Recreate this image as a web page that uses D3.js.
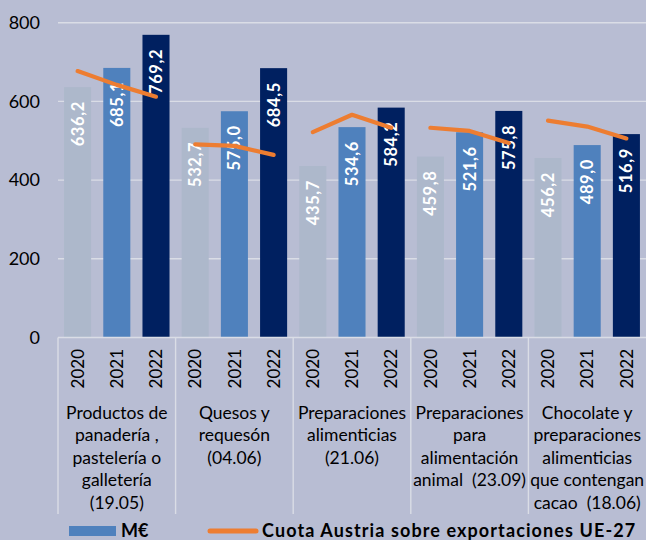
<!DOCTYPE html>
<html><head><meta charset="utf-8">
<script src="https://cdn.jsdelivr.net/npm/d3@7/dist/d3.min.js"></script>
<style>
html,body{margin:0;padding:0;background:#B8BDD3;}
svg{display:block;}
text,tspan{white-space:pre;}
</style></head>
<body>
<script>
const categories = [
  ["Productos de","panadería ,","pastelería o","galletería","(19.05)"],
  ["Quesos y","requesón","(04.06)"],
  ["Preparaciones","alimenticias","(21.06)"],
  ["Preparaciones","para","alimentación","animal  (23.09)"],
  ["Chocolate y","preparaciones","alimenticias","que contengan","cacao  (18.06)"]
];
const years = ["2020","2021","2022"];
const values = [
  [636.2, 685.1, 769.2],
  [532.7, 575.0, 684.5],
  [435.7, 534.6, 584.2],
  [459.8, 521.6, 575.8],
  [456.2, 489.0, 516.9]
];
const labels = [
  ["636,2","685,1","769,2"],
  ["532,7","575,0","684,5"],
  ["435,7","534,6","584,2"],
  ["459,8","521,6","575,8"],
  ["456,2","489,0","516,9"]
];
// share line, read in primary-axis units (no secondary axis shown)
const share = [
  [677, 642, 612],
  [491, 487, 464],
  [522, 566, 533],
  [533, 525, 494],
  [551, 536, 506]
];
const yTicks = [0, 200, 400, 600, 800];
const legendBar = "M€";
const legendLine = "Cuota Austria sobre exportaciones UE-27";

const W = 646, H = 540;
const colors = ["#ADB8CB", "#4F81BD", "#002060"];
const font = "Lato, 'Open Sans', sans-serif";

const svg = d3.select("body").append("svg").attr("width", W).attr("height", H);
svg.append("rect").attr("width", W).attr("height", H).attr("fill", "#B8BDD3");

const catIdx = categories.map((d,i)=>i);
const x = d3.scaleBand().domain(catIdx).range([58, 646]).padding(0);
const xi = d3.scaleBand().domain(years).range([0, x.bandwidth()]).paddingInner(0.31).paddingOuter(0.155);
const y = d3.scaleLinear().domain([0, 800]).range([337.5, 22.7]);

// gridlines
svg.append("g").selectAll("line").data(yTicks.filter(t=>t>0)).join("line")
  .attr("x1", 58).attr("x2", 646).attr("y1", d=>y(d)).attr("y2", d=>y(d))
  .attr("stroke", "#DADDE6").attr("stroke-width", 1.4);

// y axis labels
const yAxis = d3.axisLeft(y).tickValues(yTicks).tickSize(0).tickPadding(0).tickFormat(d3.format("d"));
const ya = svg.append("g").attr("transform", "translate(40,0)").call(yAxis);
ya.select(".domain").remove();
ya.selectAll("text").attr("font-family", font).attr("font-size", 18).attr("fill", "#000");

// bars
const groups = svg.append("g").selectAll("g").data(catIdx).join("g")
  .attr("transform", i=>`translate(${x(i)},0)`);
groups.selectAll("rect").data(i=>values[i].map((v,j)=>({v, j}))).join("rect")
  .attr("x", d=>xi(years[d.j])).attr("width", xi.bandwidth())
  .attr("y", d=>y(d.v)).attr("height", d=>y(0)-y(d.v))
  .attr("fill", d=>colors[d.j]);

// bar labels
groups.selectAll("text.val").data(i=>values[i].map((v,j)=>({v, j, t: labels[i][j]}))).join("text")
  .attr("class","val")
  .attr("transform", d=>`translate(${xi(years[d.j]) + xi.bandwidth()/2},${y(d.v)+14}) rotate(-90)`)
  .attr("text-anchor", "end").attr("dy", "0.36em")
  .attr("font-family", font).attr("font-weight", "bold").attr("font-size", 16.5)
  .attr("letter-spacing", "0.6px")
  .attr("fill", "#fff").text(d=>d.t);

// share lines
const line = d3.line().x((d,j)=>xi(years[j]) + xi.bandwidth()/2).y(d=>y(d));
groups.append("path").attr("d", i=>line(share[i]))
  .attr("fill", "none").attr("stroke", "#ED7D31").attr("stroke-width", 4.2)
  .attr("stroke-linecap", "round").attr("stroke-linejoin", "round");

// x axis line & separators
svg.append("line").attr("x1", 58).attr("x2", 646).attr("y1", y(0)).attr("y2", y(0))
  .attr("stroke", "#DADDE6").attr("stroke-width", 1.4);
svg.append("g").selectAll("line").data(catIdx).join("line")
  .attr("x1", i=>x(i)).attr("x2", i=>x(i)).attr("y1", y(0)).attr("y2", 514)
  .attr("stroke", "#DADDE6").attr("stroke-width", 1.4);

// year labels
groups.selectAll("text.yr").data(years).join("text").attr("class","yr")
  .attr("transform", d=>`translate(${xi(d) + xi.bandwidth()/2},349) rotate(-90)`)
  .attr("text-anchor", "end").attr("dy", "0.36em")
  .attr("font-family", font).attr("font-size", 17).attr("fill", "#000").text(d=>d);

// category labels
groups.append("text")
  .attr("font-family", font).attr("font-size", 17.5).attr("fill", "#000").attr("text-anchor", "middle")
  .selectAll("tspan").data(i=>categories[i]).join("tspan")
  .attr("x", x.bandwidth()/2).attr("y", (d,k)=>419 + k*22.4).text(d=>d);

// legend
const lg = svg.append("g");
lg.append("rect").attr("x", 69).attr("y", 526).attr("width", 47).attr("height", 10).attr("fill", "#4F81BD");
lg.append("text").attr("x", 121).attr("y", 537).attr("font-family", font).attr("font-weight", "bold")
  .attr("font-size", 18).attr("fill", "#000").text(legendBar);
lg.append("line").attr("x1", 210).attr("x2", 256).attr("y1", 531).attr("y2", 531)
  .attr("stroke", "#ED7D31").attr("stroke-width", 5).attr("stroke-linecap", "round");
lg.append("text").attr("x", 262).attr("y", 537).attr("font-family", font).attr("font-weight", "bold")
  .attr("font-size", 18).attr("letter-spacing", "1.1px").attr("fill", "#000").text(legendLine);
</script>
</body></html>
